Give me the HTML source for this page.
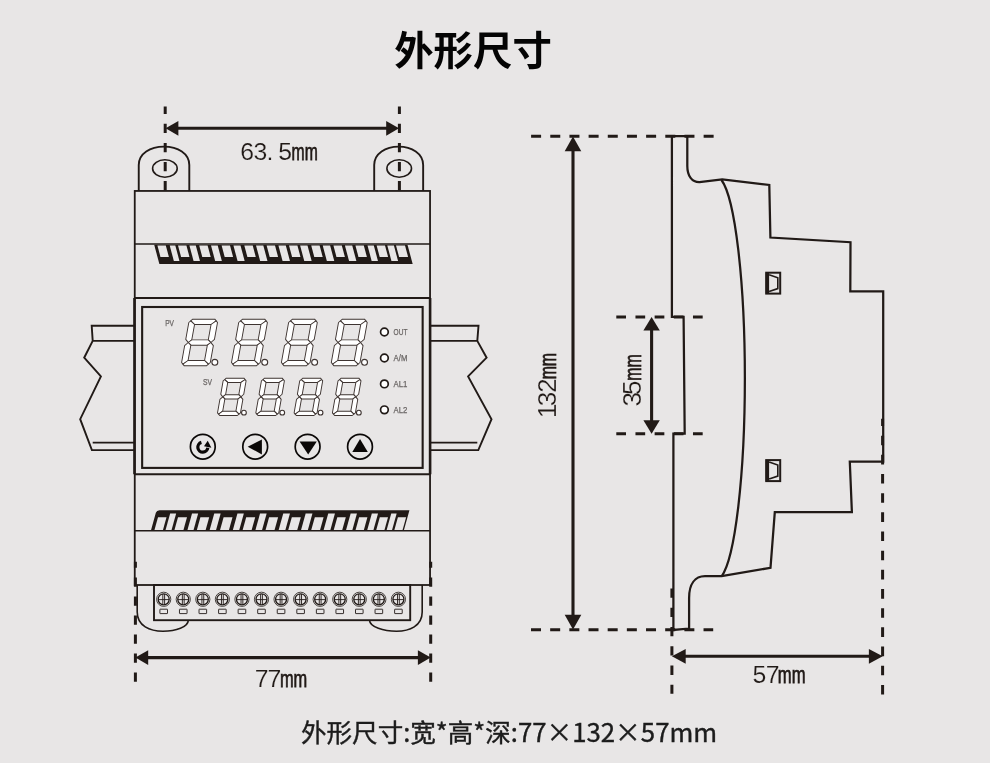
<!DOCTYPE html>
<html lang="zh-CN">
<head>
<meta charset="utf-8">
<title>外形尺寸</title>
<style>
html,body{margin:0;padding:0;background:#e8e6e6;}
body{width:990px;height:763px;position:relative;overflow:hidden;font-family:"Liberation Sans","Noto Sans CJK SC",sans-serif;color:#111;}
h1{position:absolute;left:0;top:18.8px;width:946px;margin:0;text-align:center;font-family:"Noto Sans CJK SC","Liberation Sans",sans-serif;font-weight:700;font-size:39.4px;line-height:58px;letter-spacing:0;color:#040404;}
p.cap{position:absolute;left:301px;top:713.4px;margin:0;white-space:nowrap;font-family:"Noto Sans CJK SC","Liberation Sans",sans-serif;font-weight:400;font-size:25.75px;line-height:36px;color:#1c1c1c;-webkit-text-stroke:0.4px #1c1c1c;}
p.cap .c{font-size:25.55px;}
svg{position:absolute;left:0;top:0;}
h1,p.cap,svg{will-change:transform;}
svg text{font-family:"Liberation Sans",sans-serif;}
</style>
</head>
<body>
<h1>外形尺寸</h1>
<svg width="990" height="763" viewBox="0 0 990 763">
<g fill="none" stroke="#211a17" stroke-width="1.9" stroke-linejoin="miter">
<path d="M138.75 190.95 V165 C138.75 153.5 150.25 146.6 164.03 146.6 S189.3 153.5 189.3 165 V190.95"/>
<path d="M374.2 190.95 V165 C374.2 153.5 385.7 146.6 398.67 146.6 S423.15 153.5 423.15 165 V190.95"/>
<ellipse cx="164.9" cy="168.5" rx="12.3" ry="8.7" stroke-width="1.6"/>
<ellipse cx="399.2" cy="168.5" rx="12.3" ry="8.7" stroke-width="1.6"/>
<rect x="134.75" y="190.95" width="295.3" height="394.05" stroke-width="1.8"/>
<path d="M134.5 298 V474.2 M430.1 298 V474.2" stroke-width="2.6"/>
<path d="M134.75 244.1 H430.05" stroke-width="1.5"/>
<path d="M134.75 298 H430.05" stroke-width="2.0"/>
<path d="M134.75 474.2 H430.05" stroke-width="2.0"/>
<path d="M134.75 530.7 H430.05" stroke-width="1.5"/>
<rect x="142.15" y="307" width="280.5" height="160.9" stroke-width="2.1"/>
<path d="M134.75 325.8 H91.7 L92.7 340.9 L84.2 357.7 L100.9 376.4 L80.2 419.2 L91.9 450.1 H134.75 M92.7 340.9 H134.75 M92.7 442.6 H134.75"/>
<path d="M430.05 325.8 H478.5 L477.3 340.9 L486.6 357.7 L468.1 376.4 L491.5 419.2 L478.3 450.1 H430.05 M477.3 340.9 H430.05 M477.3 442.6 H430.05"/>
<path d="M137.2 585 V612 C137.2 626 150 631.2 163 631.2 S188 627 188.3 620.4" stroke-width="1.6"/>
<path d="M422.2 585 V612 C422.2 626 409.5 631.2 396.5 631.2 S370 627 369.5 620.4" stroke-width="1.6"/>
<rect x="154" y="585" width="256.2" height="35.2"/>
</g>
<g fill="none" stroke="#211a17">
<circle cx="163.7" cy="599.3" r="7.1" stroke-width="0.8"/>
<circle cx="163.7" cy="599.3" r="5.5" stroke-width="1.3"/>
<path d="M158.2 599.6 H169.2 M162.8 594 V604.6 M164.6 594 V604.6" stroke-width="0.9"/>
<rect x="159.9" y="609.2" width="7.6" height="4.4" rx="0.3" stroke-width="0.9"/>
<circle cx="183.26" cy="599.3" r="7.1" stroke-width="0.8"/>
<circle cx="183.26" cy="599.3" r="5.5" stroke-width="1.3"/>
<path d="M177.76 599.6 H188.76 M182.36 594 V604.6 M184.16 594 V604.6" stroke-width="0.9"/>
<rect x="179.46" y="609.2" width="7.6" height="4.4" rx="0.3" stroke-width="0.9"/>
<circle cx="202.82" cy="599.3" r="7.1" stroke-width="0.8"/>
<circle cx="202.82" cy="599.3" r="5.5" stroke-width="1.3"/>
<path d="M197.32 599.6 H208.32 M201.92 594 V604.6 M203.72 594 V604.6" stroke-width="0.9"/>
<rect x="199.02" y="609.2" width="7.6" height="4.4" rx="0.3" stroke-width="0.9"/>
<circle cx="222.38" cy="599.3" r="7.1" stroke-width="0.8"/>
<circle cx="222.38" cy="599.3" r="5.5" stroke-width="1.3"/>
<path d="M216.88 599.6 H227.88 M221.48 594 V604.6 M223.28 594 V604.6" stroke-width="0.9"/>
<rect x="218.58" y="609.2" width="7.6" height="4.4" rx="0.3" stroke-width="0.9"/>
<circle cx="241.94" cy="599.3" r="7.1" stroke-width="0.8"/>
<circle cx="241.94" cy="599.3" r="5.5" stroke-width="1.3"/>
<path d="M236.44 599.6 H247.44 M241.04 594 V604.6 M242.84 594 V604.6" stroke-width="0.9"/>
<rect x="238.14" y="609.2" width="7.6" height="4.4" rx="0.3" stroke-width="0.9"/>
<circle cx="261.5" cy="599.3" r="7.1" stroke-width="0.8"/>
<circle cx="261.5" cy="599.3" r="5.5" stroke-width="1.3"/>
<path d="M256 599.6 H267 M260.6 594 V604.6 M262.4 594 V604.6" stroke-width="0.9"/>
<rect x="257.7" y="609.2" width="7.6" height="4.4" rx="0.3" stroke-width="0.9"/>
<circle cx="281.06" cy="599.3" r="7.1" stroke-width="0.8"/>
<circle cx="281.06" cy="599.3" r="5.5" stroke-width="1.3"/>
<path d="M275.56 599.6 H286.56 M280.16 594 V604.6 M281.96 594 V604.6" stroke-width="0.9"/>
<rect x="277.26" y="609.2" width="7.6" height="4.4" rx="0.3" stroke-width="0.9"/>
<circle cx="300.62" cy="599.3" r="7.1" stroke-width="0.8"/>
<circle cx="300.62" cy="599.3" r="5.5" stroke-width="1.3"/>
<path d="M295.12 599.6 H306.12 M299.72 594 V604.6 M301.52 594 V604.6" stroke-width="0.9"/>
<rect x="296.82" y="609.2" width="7.6" height="4.4" rx="0.3" stroke-width="0.9"/>
<circle cx="320.18" cy="599.3" r="7.1" stroke-width="0.8"/>
<circle cx="320.18" cy="599.3" r="5.5" stroke-width="1.3"/>
<path d="M314.68 599.6 H325.68 M319.28 594 V604.6 M321.08 594 V604.6" stroke-width="0.9"/>
<rect x="316.38" y="609.2" width="7.6" height="4.4" rx="0.3" stroke-width="0.9"/>
<circle cx="339.74" cy="599.3" r="7.1" stroke-width="0.8"/>
<circle cx="339.74" cy="599.3" r="5.5" stroke-width="1.3"/>
<path d="M334.24 599.6 H345.24 M338.84 594 V604.6 M340.64 594 V604.6" stroke-width="0.9"/>
<rect x="335.94" y="609.2" width="7.6" height="4.4" rx="0.3" stroke-width="0.9"/>
<circle cx="359.3" cy="599.3" r="7.1" stroke-width="0.8"/>
<circle cx="359.3" cy="599.3" r="5.5" stroke-width="1.3"/>
<path d="M353.8 599.6 H364.8 M358.4 594 V604.6 M360.2 594 V604.6" stroke-width="0.9"/>
<rect x="355.5" y="609.2" width="7.6" height="4.4" rx="0.3" stroke-width="0.9"/>
<circle cx="378.86" cy="599.3" r="7.1" stroke-width="0.8"/>
<circle cx="378.86" cy="599.3" r="5.5" stroke-width="1.3"/>
<path d="M373.36 599.6 H384.36 M377.96 594 V604.6 M379.76 594 V604.6" stroke-width="0.9"/>
<rect x="375.06" y="609.2" width="7.6" height="4.4" rx="0.3" stroke-width="0.9"/>
<circle cx="398.42" cy="599.3" r="7.1" stroke-width="0.8"/>
<circle cx="398.42" cy="599.3" r="5.5" stroke-width="1.3"/>
<path d="M392.92 599.6 H403.92 M397.52 594 V604.6 M399.32 594 V604.6" stroke-width="0.9"/>
<rect x="394.62" y="609.2" width="7.6" height="4.4" rx="0.3" stroke-width="0.9"/>
</g>
<polygon fill="#211a17" points="154.2,244.8 407.5,244.8 412.68,264 159.38,264"/><polygon fill="#e8e6e6" points="157.42,245.6 165.82,245.6 168.87,256.9 160.47,256.9"/><polygon fill="#e8e6e6" points="178.02,245.6 186.42,245.6 189.47,256.9 181.07,256.9"/><polygon fill="#e8e6e6" points="199.22,245.6 207.62,245.6 210.67,256.9 202.27,256.9"/><polygon fill="#e8e6e6" points="221.62,245.6 230.02,245.6 233.07,256.9 224.67,256.9"/><polygon fill="#e8e6e6" points="244.32,245.6 252.72,245.6 255.77,256.9 247.37,256.9"/><polygon fill="#e8e6e6" points="266.62,245.6 275.02,245.6 278.07,256.9 269.67,256.9"/><polygon fill="#e8e6e6" points="289.02,245.6 297.42,245.6 300.47,256.9 292.07,256.9"/><polygon fill="#e8e6e6" points="311.22,245.6 319.62,245.6 322.67,256.9 314.27,256.9"/><polygon fill="#e8e6e6" points="333.42,245.6 341.82,245.6 344.87,256.9 336.47,256.9"/><polygon fill="#e8e6e6" points="355.42,245.6 363.82,245.6 366.87,256.9 358.47,256.9"/><polygon fill="#e8e6e6" points="376.62,245.6 385.02,245.6 388.07,256.9 379.67,256.9"/><polygon fill="#e8e6e6" points="396.02,245.6 405.02,245.6 408.07,256.9 399.07,256.9"/><polygon fill="#e8e6e6" points="169.72,245.6 175.32,245.6 179.47,261 173.87,261"/><polygon fill="#e8e6e6" points="189.42,245.6 195.82,245.6 199.97,261 193.57,261"/><polygon fill="#e8e6e6" points="211.02,245.6 217.72,245.6 221.87,261 215.17,261"/><polygon fill="#e8e6e6" points="233.42,245.6 240.52,245.6 244.67,261 237.57,261"/><polygon fill="#e8e6e6" points="256.02,245.6 263.32,245.6 267.47,261 260.17,261"/><polygon fill="#e8e6e6" points="278.42,245.6 285.82,245.6 289.97,261 282.57,261"/><polygon fill="#e8e6e6" points="300.12,245.6 307.52,245.6 311.67,261 304.27,261"/><polygon fill="#e8e6e6" points="322.72,245.6 330.12,245.6 334.27,261 326.87,261"/><polygon fill="#e8e6e6" points="344.92,245.6 352.22,245.6 356.37,261 349.07,261"/><polygon fill="#e8e6e6" points="367.52,245.6 373.82,245.6 377.97,261 371.67,261"/><polygon fill="#e8e6e6" points="387.32,245.6 393.92,245.6 398.07,261 391.47,261"/>
<path fill="#211a17" d="M151 530.2 L155.84 512.8 Q156.53 510.3 159.53 510.3 L409.43 510.3 L403.9 530.2 Z"/><polygon fill="#e8e6e6" points="158.01,517.2 166.51,517.2 162.96,530 154.46,530"/><polygon fill="#e8e6e6" points="178.01,517.2 187.01,517.2 183.46,530 174.46,530"/><polygon fill="#e8e6e6" points="200.41,517.2 209.21,517.2 205.66,530 196.86,530"/><polygon fill="#e8e6e6" points="223.61,517.2 232.51,517.2 228.96,530 220.06,530"/><polygon fill="#e8e6e6" points="246.21,517.2 255.21,517.2 251.66,530 242.66,530"/><polygon fill="#e8e6e6" points="269.11,517.2 278.11,517.2 274.56,530 265.56,530"/><polygon fill="#e8e6e6" points="291.81,517.2 300.81,517.2 297.26,530 288.26,530"/><polygon fill="#e8e6e6" points="314.81,517.2 323.61,517.2 320.06,530 311.26,530"/><polygon fill="#e8e6e6" points="337.31,517.2 345.81,517.2 342.26,530 333.76,530"/><polygon fill="#e8e6e6" points="359.11,517.2 367.41,517.2 363.86,530 355.56,530"/><polygon fill="#e8e6e6" points="379.81,517.2 388.01,517.2 384.46,530 376.26,530"/><polygon fill="#e8e6e6" points="397.91,517.2 406.11,517.2 402.56,530 394.36,530"/><polygon fill="#e8e6e6" points="170.14,513.5 176.14,513.5 171.56,530 165.56,530"/><polygon fill="#e8e6e6" points="192.04,513.5 198.14,513.5 193.56,530 187.46,530"/><polygon fill="#e8e6e6" points="214.24,513.5 220.64,513.5 216.06,530 209.66,530"/><polygon fill="#e8e6e6" points="237.44,513.5 243.84,513.5 239.26,530 232.86,530"/><polygon fill="#e8e6e6" points="260.04,513.5 266.64,513.5 262.06,530 255.46,530"/><polygon fill="#e8e6e6" points="283.24,513.5 289.94,513.5 285.36,530 278.66,530"/><polygon fill="#e8e6e6" points="305.64,513.5 312.44,513.5 307.86,530 301.06,530"/><polygon fill="#e8e6e6" points="328.24,513.5 334.94,513.5 330.36,530 323.66,530"/><polygon fill="#e8e6e6" points="350.64,513.5 356.94,513.5 352.36,530 346.06,530"/><polygon fill="#e8e6e6" points="371.84,513.5 378.04,513.5 373.46,530 367.26,530"/><polygon fill="#e8e6e6" points="391.24,513.5 396.64,513.5 392.06,530 386.66,530"/>
<g transform="matrix(1 0 -0.18 1 189.4 319.2)" fill="#fff" stroke="#3e3431" stroke-width="0.95" stroke-linejoin="round"><polygon points="3.3,0 25.4,0 27.05,1.65 22.6,5.3 6.1,5.3 1.65,1.65"/><polygon points="1.65,1.65 6.1,5.3 6.1,20.65 3.05,23.3 0,20.1 0,3.3"/><polygon points="27.05,1.65 28.7,3.3 28.7,20.1 25.65,23.3 22.6,20.65 22.6,5.3"/><polygon points="3.05,23.3 6.1,20.65 22.6,20.65 25.65,23.3 22.6,25.95 6.1,25.95"/><polygon points="0,26.5 3.05,23.3 6.1,25.95 6.1,41.3 1.65,44.95 0,43.3"/><polygon points="28.7,26.5 25.65,23.3 22.6,25.95 22.6,41.3 27.05,44.95 28.7,43.3"/><polygon points="1.65,44.95 6.1,41.3 22.6,41.3 27.05,44.95 25.4,46.6 3.3,46.6"/></g><circle cx="214.83" cy="362.3" r="2.95" fill="#fff" stroke="#3e3431" stroke-width="1.1"/>
<g transform="matrix(1 0 -0.18 1 239.3 319.2)" fill="#fff" stroke="#3e3431" stroke-width="0.95" stroke-linejoin="round"><polygon points="3.3,0 25.4,0 27.05,1.65 22.6,5.3 6.1,5.3 1.65,1.65"/><polygon points="1.65,1.65 6.1,5.3 6.1,20.65 3.05,23.3 0,20.1 0,3.3"/><polygon points="27.05,1.65 28.7,3.3 28.7,20.1 25.65,23.3 22.6,20.65 22.6,5.3"/><polygon points="3.05,23.3 6.1,20.65 22.6,20.65 25.65,23.3 22.6,25.95 6.1,25.95"/><polygon points="0,26.5 3.05,23.3 6.1,25.95 6.1,41.3 1.65,44.95 0,43.3"/><polygon points="28.7,26.5 25.65,23.3 22.6,25.95 22.6,41.3 27.05,44.95 28.7,43.3"/><polygon points="1.65,44.95 6.1,41.3 22.6,41.3 27.05,44.95 25.4,46.6 3.3,46.6"/></g><circle cx="264.73" cy="362.3" r="2.95" fill="#fff" stroke="#3e3431" stroke-width="1.1"/>
<g transform="matrix(1 0 -0.18 1 289.2 319.2)" fill="#fff" stroke="#3e3431" stroke-width="0.95" stroke-linejoin="round"><polygon points="3.3,0 25.4,0 27.05,1.65 22.6,5.3 6.1,5.3 1.65,1.65"/><polygon points="1.65,1.65 6.1,5.3 6.1,20.65 3.05,23.3 0,20.1 0,3.3"/><polygon points="27.05,1.65 28.7,3.3 28.7,20.1 25.65,23.3 22.6,20.65 22.6,5.3"/><polygon points="3.05,23.3 6.1,20.65 22.6,20.65 25.65,23.3 22.6,25.95 6.1,25.95"/><polygon points="0,26.5 3.05,23.3 6.1,25.95 6.1,41.3 1.65,44.95 0,43.3"/><polygon points="28.7,26.5 25.65,23.3 22.6,25.95 22.6,41.3 27.05,44.95 28.7,43.3"/><polygon points="1.65,44.95 6.1,41.3 22.6,41.3 27.05,44.95 25.4,46.6 3.3,46.6"/></g><circle cx="314.63" cy="362.3" r="2.95" fill="#fff" stroke="#3e3431" stroke-width="1.1"/>
<g transform="matrix(1 0 -0.18 1 339.1 319.2)" fill="#fff" stroke="#3e3431" stroke-width="0.95" stroke-linejoin="round"><polygon points="3.3,0 25.4,0 27.05,1.65 22.6,5.3 6.1,5.3 1.65,1.65"/><polygon points="1.65,1.65 6.1,5.3 6.1,20.65 3.05,23.3 0,20.1 0,3.3"/><polygon points="27.05,1.65 28.7,3.3 28.7,20.1 25.65,23.3 22.6,20.65 22.6,5.3"/><polygon points="3.05,23.3 6.1,20.65 22.6,20.65 25.65,23.3 22.6,25.95 6.1,25.95"/><polygon points="0,26.5 3.05,23.3 6.1,25.95 6.1,41.3 1.65,44.95 0,43.3"/><polygon points="28.7,26.5 25.65,23.3 22.6,25.95 22.6,41.3 27.05,44.95 28.7,43.3"/><polygon points="1.65,44.95 6.1,41.3 22.6,41.3 27.05,44.95 25.4,46.6 3.3,46.6"/></g><circle cx="364.53" cy="362.3" r="2.95" fill="#fff" stroke="#3e3431" stroke-width="1.1"/>
<g transform="matrix(0.8 0 -0.14 0.8 223.6 378.2)" fill="#fff" stroke="#3e3431" stroke-width="1.19" stroke-linejoin="round"><polygon points="3.3,0 25.4,0 27.05,1.65 22.6,5.3 6.1,5.3 1.65,1.65"/><polygon points="1.65,1.65 6.1,5.3 6.1,20.65 3.05,23.3 0,20.1 0,3.3"/><polygon points="27.05,1.65 28.7,3.3 28.7,20.1 25.65,23.3 22.6,20.65 22.6,5.3"/><polygon points="3.05,23.3 6.1,20.65 22.6,20.65 25.65,23.3 22.6,25.95 6.1,25.95"/><polygon points="0,26.5 3.05,23.3 6.1,25.95 6.1,41.3 1.65,44.95 0,43.3"/><polygon points="28.7,26.5 25.65,23.3 22.6,25.95 22.6,41.3 27.05,44.95 28.7,43.3"/><polygon points="1.65,44.95 6.1,41.3 22.6,41.3 27.05,44.95 25.4,46.6 3.3,46.6"/></g><circle cx="243.94" cy="412.68" r="2.38" fill="#fff" stroke="#3e3431" stroke-width="1.1"/>
<g transform="matrix(0.8 0 -0.14 0.8 261.9 378.2)" fill="#fff" stroke="#3e3431" stroke-width="1.19" stroke-linejoin="round"><polygon points="3.3,0 25.4,0 27.05,1.65 22.6,5.3 6.1,5.3 1.65,1.65"/><polygon points="1.65,1.65 6.1,5.3 6.1,20.65 3.05,23.3 0,20.1 0,3.3"/><polygon points="27.05,1.65 28.7,3.3 28.7,20.1 25.65,23.3 22.6,20.65 22.6,5.3"/><polygon points="3.05,23.3 6.1,20.65 22.6,20.65 25.65,23.3 22.6,25.95 6.1,25.95"/><polygon points="0,26.5 3.05,23.3 6.1,25.95 6.1,41.3 1.65,44.95 0,43.3"/><polygon points="28.7,26.5 25.65,23.3 22.6,25.95 22.6,41.3 27.05,44.95 28.7,43.3"/><polygon points="1.65,44.95 6.1,41.3 22.6,41.3 27.05,44.95 25.4,46.6 3.3,46.6"/></g><circle cx="282.24" cy="412.68" r="2.38" fill="#fff" stroke="#3e3431" stroke-width="1.1"/>
<g transform="matrix(0.8 0 -0.14 0.8 300.2 378.2)" fill="#fff" stroke="#3e3431" stroke-width="1.19" stroke-linejoin="round"><polygon points="3.3,0 25.4,0 27.05,1.65 22.6,5.3 6.1,5.3 1.65,1.65"/><polygon points="1.65,1.65 6.1,5.3 6.1,20.65 3.05,23.3 0,20.1 0,3.3"/><polygon points="27.05,1.65 28.7,3.3 28.7,20.1 25.65,23.3 22.6,20.65 22.6,5.3"/><polygon points="3.05,23.3 6.1,20.65 22.6,20.65 25.65,23.3 22.6,25.95 6.1,25.95"/><polygon points="0,26.5 3.05,23.3 6.1,25.95 6.1,41.3 1.65,44.95 0,43.3"/><polygon points="28.7,26.5 25.65,23.3 22.6,25.95 22.6,41.3 27.05,44.95 28.7,43.3"/><polygon points="1.65,44.95 6.1,41.3 22.6,41.3 27.05,44.95 25.4,46.6 3.3,46.6"/></g><circle cx="320.54" cy="412.68" r="2.38" fill="#fff" stroke="#3e3431" stroke-width="1.1"/>
<g transform="matrix(0.8 0 -0.14 0.8 338.5 378.2)" fill="#fff" stroke="#3e3431" stroke-width="1.19" stroke-linejoin="round"><polygon points="3.3,0 25.4,0 27.05,1.65 22.6,5.3 6.1,5.3 1.65,1.65"/><polygon points="1.65,1.65 6.1,5.3 6.1,20.65 3.05,23.3 0,20.1 0,3.3"/><polygon points="27.05,1.65 28.7,3.3 28.7,20.1 25.65,23.3 22.6,20.65 22.6,5.3"/><polygon points="3.05,23.3 6.1,20.65 22.6,20.65 25.65,23.3 22.6,25.95 6.1,25.95"/><polygon points="0,26.5 3.05,23.3 6.1,25.95 6.1,41.3 1.65,44.95 0,43.3"/><polygon points="28.7,26.5 25.65,23.3 22.6,25.95 22.6,41.3 27.05,44.95 28.7,43.3"/><polygon points="1.65,44.95 6.1,41.3 22.6,41.3 27.05,44.95 25.4,46.6 3.3,46.6"/></g><circle cx="358.84" cy="412.68" r="2.38" fill="#fff" stroke="#3e3431" stroke-width="1.1"/>
<circle cx="384.4" cy="332" r="3.85" fill="#fff" stroke="#211a17" stroke-width="1.7"/>
<text x="393.6" y="335" font-size="8.4" fill="#6a6665" stroke="#6a6665" stroke-width="0.25" textLength="13.8" lengthAdjust="spacingAndGlyphs">OUT</text>
<circle cx="384.4" cy="357.95" r="3.85" fill="#fff" stroke="#211a17" stroke-width="1.7"/>
<text x="393.6" y="360.95" font-size="8.4" fill="#6a6665" stroke="#6a6665" stroke-width="0.25" textLength="13.8" lengthAdjust="spacingAndGlyphs">A/M</text>
<circle cx="384.4" cy="383.9" r="3.85" fill="#fff" stroke="#211a17" stroke-width="1.7"/>
<text x="393.6" y="386.9" font-size="8.4" fill="#6a6665" stroke="#6a6665" stroke-width="0.25" textLength="13.8" lengthAdjust="spacingAndGlyphs">AL1</text>
<circle cx="384.4" cy="409.85" r="3.85" fill="#fff" stroke="#211a17" stroke-width="1.7"/>
<text x="393.6" y="412.85" font-size="8.4" fill="#6a6665" stroke="#6a6665" stroke-width="0.25" textLength="13.8" lengthAdjust="spacingAndGlyphs">AL2</text>
<text x="165.2" y="326" font-size="8.4" fill="#6a6665" stroke="#6a6665" stroke-width="0.25" textLength="8.8" lengthAdjust="spacingAndGlyphs">PV</text>
<text x="203" y="385" font-size="8.4" fill="#6a6665" stroke="#6a6665" stroke-width="0.25" textLength="9" lengthAdjust="spacingAndGlyphs">SV</text>
<g transform="translate(0 0.4)">
<circle cx="202.8" cy="446.3" r="12.4" fill="none" stroke="#0b0807" stroke-width="1.7"/>
<circle cx="255.2" cy="446.3" r="12.4" fill="none" stroke="#0b0807" stroke-width="1.7"/>
<circle cx="307.6" cy="446.3" r="12.4" fill="none" stroke="#0b0807" stroke-width="1.7"/>
<circle cx="360" cy="446.3" r="12.4" fill="none" stroke="#0b0807" stroke-width="1.7"/>
<path d="M201.4 442.0 A5 5 0 1 0 207.8 447.4" fill="none" stroke="#0b0807" stroke-width="3.2"/>
<polygon points="207.7,440.3 204.0,445.9 211.4,447.3" fill="#0b0807"/>
<polygon points="247.7,446.3 261.9,439.2 261.9,454" fill="#0b0807"/>
<polygon points="299.6,441.1 316.8,441.1 308.2,454.2" fill="#0b0807"/>
<polygon points="360,438.6 367.8,451.6 352.3,451.6" fill="#0b0807"/>
</g>
<path d="M165.2 106.5 V190.4" stroke="#211a17" stroke-width="3.0" stroke-dasharray="9.3 9.8" stroke-dashoffset="1.8" fill="none"/>
<path d="M399.4 106.5 V190.4" stroke="#211a17" stroke-width="3.0" stroke-dasharray="9.3 9.8" stroke-dashoffset="1.8" fill="none"/>
<path d="M171.6 128.3 H393" stroke="#211a17" stroke-width="3.1" fill="none"/><polygon fill="#211a17" points="165.6,128.3 178.4,120.9 178.4,135.7"/><polygon fill="#211a17" points="399,128.3 386.2,120.9 386.2,135.7"/>
<path d="M135.4 561.8 V682" stroke="#211a17" stroke-width="3.0" stroke-dasharray="9.2 9.8" stroke-dashoffset="3.2" fill="none"/>
<path d="M430.7 561.8 V682" stroke="#211a17" stroke-width="3.0" stroke-dasharray="9.2 9.8" stroke-dashoffset="3.2" fill="none"/>
<path d="M141.4 657.6 H424.7" stroke="#211a17" stroke-width="3.1" fill="none"/><polygon fill="#211a17" points="135.4,657.6 148.2,650.2 148.2,665"/><polygon fill="#211a17" points="430.7,657.6 417.9,650.2 417.9,665"/>
<g fill="none" stroke="#211a17" stroke-width="2.25" stroke-linejoin="miter">
<path d="M671.9 136.2 V316.9 H683.6 L684.7 433.7 H673.4 V629.9 L689.1 628.5 V598 C689.1 584 695 576.2 705 576.2 H721.6 L770.5 567.8 L774.8 512.2 H851.9 L849.8 461.7 H883.2 V291.3 H850.3 L850.5 242.2 L770.4 237.5 L769.3 184.9 L722.2 179.4 L699.5 182.2 C692 182.4 687.3 176 687.3 166 V136.2 Z"/>
<path d="M721.5 180 A28.9 202 0 0 1 721.6 576.4"/>
</g>
<g fill="none" stroke="#211a17">
<rect x="766.2" y="272.7" width="14" height="20.9" stroke-width="2"/>
<path d="M767.4 272.7 V293.6" stroke-width="3.4"/>
<path d="M769.1 274.7 L777.8 277.7 V288.6 L769.1 291.6" stroke-width="1.6"/>
</g>
<g fill="none" stroke="#211a17">
<rect x="766.2" y="460.1" width="14" height="21" stroke-width="2"/>
<path d="M767.4 460.1 V481.1" stroke-width="3.4"/>
<path d="M769.1 462.1 L777.8 465.1 V476.1 L769.1 479.1" stroke-width="1.6"/>
</g>
<path d="M531.1 136.2 H714" stroke="#211a17" stroke-width="3.0" stroke-dasharray="10 9.17" stroke-dashoffset="0" fill="none"/>
<path d="M531 629.7 H713.2" stroke="#211a17" stroke-width="3.0" stroke-dasharray="10 9.17" stroke-dashoffset="0" fill="none"/>
<path d="M573 142.4 V623.6" stroke="#211a17" stroke-width="3.1" fill="none"/><polygon fill="#211a17" points="573,136.4 564.7,151.2 581.3,151.2"/><polygon fill="#211a17" points="573,629.6 564.7,614.8 581.3,614.8"/>
<path d="M616.3 316.9 H703" stroke="#211a17" stroke-width="3.0" stroke-dasharray="9.7 9.47" stroke-dashoffset="0" fill="none"/>
<path d="M616.3 433.8 H703" stroke="#211a17" stroke-width="3.0" stroke-dasharray="9.7 9.47" stroke-dashoffset="0" fill="none"/>
<path d="M651.6 322.9 V427.8" stroke="#211a17" stroke-width="3.1" fill="none"/><polygon fill="#211a17" points="651.6,316.9 643.4,330.5 659.8,330.5"/><polygon fill="#211a17" points="651.6,433.8 643.4,420.2 659.8,420.2"/>
<path d="M671.9 588.4 V693.8" stroke="#211a17" stroke-width="3.0" stroke-dasharray="9.4 9.87" stroke-dashoffset="0" fill="none"/>
<path d="M882.6 418.8 V694.6" stroke="#211a17" stroke-width="3.0" stroke-dasharray="9.6 9.57" stroke-dashoffset="2.3" fill="none"/>
<path d="M677.9 656.3 H876.7" stroke="#211a17" stroke-width="3.1" fill="none"/><polygon fill="#211a17" points="671.9,656.3 685.7,648.9 685.7,663.7"/><polygon fill="#211a17" points="882.7,656.3 868.9,648.9 868.9,663.7"/>
<text y="160.25" font-size="24.8" fill="#211a17" text-anchor="middle"><tspan x="247.15 260.35 270.05 285.05" stroke="#e8e6e6" stroke-width="0.18">63.5</tspan><tspan x="304.65" textLength="26.22" lengthAdjust="spacingAndGlyphs" font-size="23.31" stroke="#211a17" stroke-width="0.75">mm</tspan></text>
<text y="687.1" font-size="24.8" fill="#211a17" text-anchor="middle"><tspan x="261.65 274.35" stroke="#e8e6e6" stroke-width="0.18">77</tspan><tspan x="293.55" textLength="27.33" lengthAdjust="spacingAndGlyphs" font-size="23.31" stroke="#211a17" stroke-width="0.75">mm</tspan></text>
<text y="683.1" font-size="24.8" fill="#211a17" text-anchor="middle"><tspan x="759.4 772.75" stroke="#e8e6e6" stroke-width="0.18">57</tspan><tspan x="791.7" textLength="27.67" lengthAdjust="spacingAndGlyphs" font-size="23.31" stroke="#211a17" stroke-width="0.75">mm</tspan></text>
<text transform="translate(556.2 0) rotate(-90)" y="0" font-size="25.9" fill="#211a17" text-anchor="middle"><tspan x="-410.9 -398.95 -385.5" stroke="#e8e6e6" stroke-width="0.18">132</tspan><tspan x="-366.15" textLength="26.44" lengthAdjust="spacingAndGlyphs" font-size="24.35" stroke="#211a17" stroke-width="0.75">mm</tspan></text>
<text transform="translate(640.5 0) rotate(-90)" y="0" font-size="25.9" fill="#211a17" text-anchor="middle"><tspan x="-399.25 -387.8" stroke="#e8e6e6" stroke-width="0.18">35</tspan><tspan x="-367.6" textLength="26.44" lengthAdjust="spacingAndGlyphs" font-size="24.35" stroke="#211a17" stroke-width="0.75">mm</tspan></text>
</svg>
<p class="cap"><span class="c">外形尺寸:宽*高*深:</span>77×132×57mm</p>
</body>
</html>
